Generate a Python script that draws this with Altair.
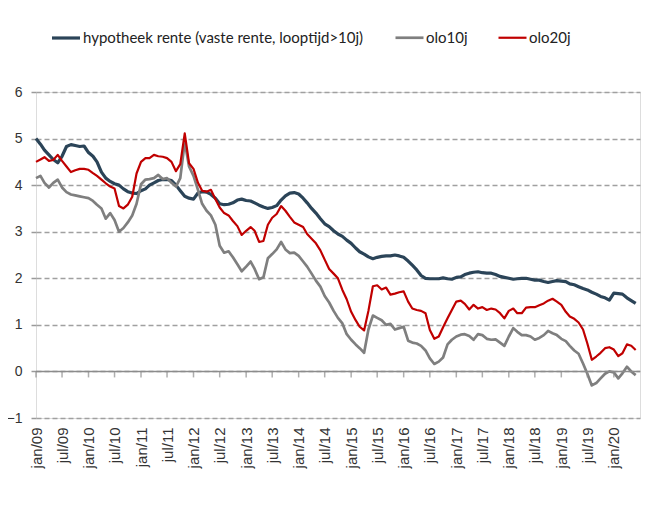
import altair as alt
import pandas as pd

series_names = ["hypotheek rente (vaste rente, looptijd>10j)", "olo10j", "olo20j"]
series_colors = ["#2B4458", "#7F7F7F", "#C00000"]
series_widths = [3.2, 2.2, 3.0]

start_month = "2009-01-01"

hypotheek = [
    5.00, 4.88, 4.75, 4.65, 4.55, 4.48, 4.62, 4.83, 4.87, 4.85,
    4.83, 4.84, 4.70, 4.62, 4.50, 4.28, 4.15, 4.08, 4.03, 4.00,
    3.92, 3.86, 3.83, 3.82, 3.88, 3.92, 4.00, 4.05, 4.10, 4.12,
    4.12, 4.10, 4.00, 3.88, 3.76, 3.72, 3.70, 3.83, 3.86, 3.85,
    3.80, 3.72, 3.60, 3.58, 3.59, 3.62, 3.68, 3.70, 3.67, 3.66,
    3.62, 3.57, 3.53, 3.50, 3.52, 3.56, 3.68, 3.77, 3.83, 3.84,
    3.81, 3.72, 3.62, 3.50, 3.40, 3.28, 3.17, 3.11, 3.02, 2.95,
    2.90, 2.82, 2.75, 2.65, 2.57, 2.52, 2.46, 2.42, 2.45, 2.47,
    2.48, 2.48, 2.50, 2.48, 2.45, 2.37, 2.28, 2.18, 2.06, 2.00,
    1.99, 1.99, 1.99, 2.01, 1.99, 1.98, 2.02, 2.03, 2.08, 2.11,
    2.13, 2.14, 2.12, 2.11, 2.11, 2.08, 2.04, 2.02, 2.00, 1.98,
    1.99, 2.00, 2.00, 1.98, 1.96, 1.96, 1.93, 1.91, 1.93, 1.95,
    1.94, 1.93, 1.88, 1.86, 1.82, 1.78, 1.75, 1.70, 1.66, 1.61,
    1.58, 1.53, 1.68, 1.67, 1.66, 1.58, 1.52, 1.46,
]

olo10j = [
    4.15, 4.20, 4.05, 3.95, 4.05, 4.12, 3.95, 3.85, 3.80, 3.78,
    3.76, 3.74, 3.72, 3.66, 3.58, 3.50, 3.28, 3.40, 3.25, 3.00,
    3.08, 3.20, 3.35, 3.60, 4.02, 4.12, 4.13, 4.15, 4.22, 4.13,
    4.15, 4.05, 3.97, 4.15, 4.93, 4.40, 4.20, 3.90, 3.60, 3.45,
    3.35, 3.15, 2.70, 2.55, 2.58, 2.45, 2.30, 2.15, 2.25, 2.36,
    2.20, 1.98, 2.02, 2.43, 2.52, 2.62, 2.78, 2.62, 2.54, 2.55,
    2.48, 2.36, 2.25, 2.10, 1.95, 1.82, 1.62, 1.48, 1.30, 1.15,
    1.03, 0.80, 0.68, 0.58, 0.50, 0.40, 0.90, 1.20, 1.15, 1.10,
    1.00, 1.02, 0.90, 0.93, 0.96, 0.66, 0.62, 0.60, 0.55, 0.45,
    0.28, 0.16, 0.21, 0.30, 0.58, 0.68, 0.75, 0.79, 0.80, 0.76,
    0.68, 0.80, 0.78, 0.70, 0.68, 0.69, 0.62, 0.55, 0.75, 0.93,
    0.85, 0.78, 0.78, 0.75, 0.68, 0.72, 0.78, 0.87, 0.82, 0.78,
    0.70, 0.65, 0.55, 0.45, 0.38, 0.17, -0.05, -0.30, -0.25, -0.15,
    -0.05, 0.00, -0.02, -0.15, -0.04, 0.10, 0.00, -0.08,
]

olo20j = [
    4.50, 4.55, 4.60, 4.52, 4.54, 4.65, 4.52, 4.40, 4.28, 4.32,
    4.35, 4.35, 4.33, 4.26, 4.20, 4.12, 4.04, 3.97, 3.93, 3.55,
    3.50, 3.58, 3.75, 4.25, 4.50, 4.58, 4.58, 4.65, 4.62, 4.61,
    4.58, 4.50, 4.30, 4.45, 5.11, 4.47, 4.35, 4.05, 3.88, 3.86,
    3.90, 3.70, 3.52, 3.40, 3.35, 3.23, 3.12, 2.93, 3.02, 3.10,
    3.02, 2.78, 2.80, 3.15, 3.30, 3.38, 3.55, 3.45, 3.32, 3.20,
    3.15, 3.10, 2.95, 2.85, 2.75, 2.60, 2.40, 2.20, 2.10, 2.00,
    1.75, 1.55, 1.28, 1.10, 0.96, 0.88, 1.30, 1.83, 1.85, 1.76,
    1.80, 1.65, 1.67, 1.70, 1.72, 1.50, 1.35, 1.32, 1.30, 1.25,
    0.89, 0.70, 0.75, 0.95, 1.14, 1.32, 1.50, 1.52, 1.45, 1.33,
    1.43, 1.35, 1.38, 1.32, 1.35, 1.33, 1.25, 1.14, 1.30, 1.35,
    1.25, 1.25, 1.37, 1.38, 1.38, 1.42, 1.46, 1.52, 1.56, 1.50,
    1.43, 1.28, 1.18, 1.13, 1.05, 0.90, 0.60, 0.25, 0.32, 0.40,
    0.50, 0.52, 0.47, 0.33, 0.39, 0.58, 0.55, 0.46,
]

tick_years = list(range(2009, 2021))
y_ticks = [-1, 0, 1, 2, 3, 4, 5, 6]

dates = pd.date_range(start_month, periods=len(hypotheek), freq="MS")
rows = []
for name, vals in zip(series_names, [hypotheek, olo10j, olo20j]):
    for d, v in zip(dates, vals):
        rows.append({"datum": d, "reeks": name, "rente": v})
df = pd.DataFrame(rows)

tick_dates = []
for y in tick_years:
    tick_dates.append(pd.Timestamp(year=y, month=1, day=1))
    if y < 2020:
        tick_dates.append(pd.Timestamp(year=y, month=7, day=1))
ticks_df = pd.DataFrame({"datum": tick_dates, "nul": [0] * len(tick_dates)})
axis_values = [alt.DateTime(year=t.year, month=t.month, date=1) for t in tick_dates]

x_scale = alt.Scale(domain=[alt.DateTime(year=2009, month=1, date=1),
                            alt.DateTime(year=2020, month=7, date=1)], nice=False)
y_scale = alt.Scale(domain=[-1, 6], nice=False)

x_axis = alt.Axis(values=axis_values, labelExpr="lower(timeFormat(datum.value, '%b/%y'))",
                  labelAngle=270, labelFont="Liberation Sans", labelFontSize=15,
                  labelColor="#333333", ticks=False, domain=False, grid=False,
                  labelPadding=9, title=None, labelOverlap=False, labelBound=False,
                  labelSeparation=0)
y_axis = alt.Axis(values=y_ticks, labelFont="Liberation Sans", labelFontSize=14,
                  labelColor="#333333", tickSize=5, tickColor="#9a9a9a", tickWidth=1.5,
                  domain=False, grid=True, gridDash=[5, 3], gridColor="#a0a0a0",
                  gridWidth=1.5, labelPadding=9, title=None)

lines = alt.Chart(df).mark_line(strokeJoin="round").encode(
    x=alt.X("datum:T", scale=x_scale, axis=x_axis),
    y=alt.Y("rente:Q", scale=y_scale, axis=y_axis),
    color=alt.Color("reeks:N",
                    scale=alt.Scale(domain=series_names, range=series_colors),
                    legend=alt.Legend(orient="none", legendX=14, legendY=-70,
                                      direction="horizontal", title=None,
                                      symbolType="stroke", symbolSize=784,
                                      symbolStrokeWidth=3, labelFont="Lato",
                                      labelFontSize=15, labelColor="#222222",
                                      labelLimit=0, columnPadding=26, labelOffset=1)),
    strokeWidth=alt.StrokeWidth("reeks:N",
                                scale=alt.Scale(domain=series_names, range=series_widths),
                                legend=None),
)

zero_rule = alt.Chart(ticks_df).mark_rule(color="#8c8c8c", strokeWidth=1.5).encode(
    y=alt.Y("max(nul):Q", scale=y_scale, axis=y_axis)
)

zero_ticks = alt.Chart(ticks_df).mark_tick(orient="vertical", size=6, yOffset=3,
                                           color="#8c8c8c", thickness=1.5).encode(
    x=alt.X("datum:T", scale=x_scale, axis=x_axis),
    y=alt.Y("nul:Q", scale=y_scale, axis=y_axis),
)

chart = alt.layer(lines, zero_rule, zero_ticks).properties(
    width=604, height=326,
    padding={"left": 28, "top": 84, "right": 12, "bottom": 84},
    autosize=alt.AutoSizeParams(type="none"),
).configure_view(stroke="#9a9a9a", strokeWidth=1.5).configure(background="white")

chart.save("out.html", embed_options={"renderer": "svg", "actions": False})
